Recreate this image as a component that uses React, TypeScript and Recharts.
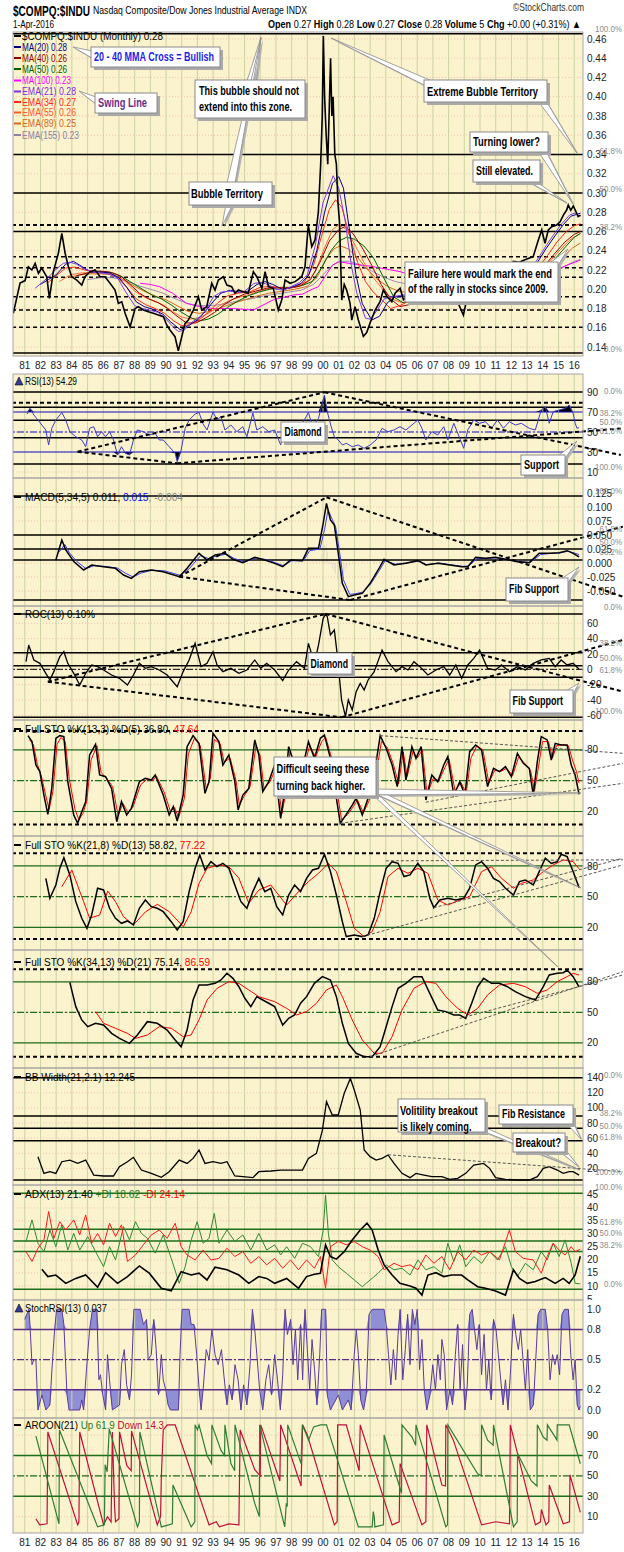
import React from 'react';
import { ComposedChart, Line, Area, Bar, Cell, XAxis, YAxis, CartesianGrid, ReferenceLine } from 'recharts';

type P = [number, number];

const FONT = "'Liberation Sans', Arial, sans-serif";
const NARROW = "'Liberation Sans Narrow', 'Arial Narrow', 'Liberation Sans', Arial, sans-serif";
const X_DOMAIN: [number, number] = [1980.25, 2016.56];
const YEARS: number[] = [];
for (let y = 1981; y <= 2016; y++) YEARS.push(y);

// ---------------- main panel: $COMPQ:$INDU monthly ratio ----------------
const priceRatio: P[] = [[1980.27,0.175],[1980.7,0.2065],[1981.02,0.209],[1981.23,0.2234],[1981.45,0.22],[1981.66,0.227],[1981.87,0.2166],[1982.08,0.222],[1982.4,0.213],[1982.57,0.1906],[1982.82,0.2183],[1983.14,0.2374],[1983.36,0.258],[1983.57,0.2374],[1983.78,0.2234],[1983.99,0.213],[1984.31,0.2096],[1984.63,0.2044],[1984.84,0.213],[1985.16,0.2183],[1985.48,0.22],[1985.8,0.213],[1986.11,0.213],[1986.43,0.2062],[1986.75,0.1992],[1986.96,0.1854],[1987.18,0.187],[1987.39,0.175],[1987.71,0.161],[1988.03,0.18],[1988.24,0.1819],[1988.55,0.1784],[1988.87,0.1767],[1989.19,0.175],[1989.51,0.1732],[1989.83,0.1715],[1990.04,0.1629],[1990.25,0.1577],[1990.57,0.1507],[1990.78,0.136],[1991.0,0.1507],[1991.21,0.1646],[1991.42,0.168],[1991.74,0.1784],[1992.06,0.1923],[1992.27,0.1784],[1992.59,0.1819],[1992.91,0.2062],[1993.12,0.1992],[1993.33,0.2096],[1993.65,0.213],[1993.87,0.2044],[1994.18,0.2026],[1994.39,0.1958],[1994.61,0.1992],[1994.92,0.1975],[1995.24,0.1958],[1995.56,0.2183],[1995.78,0.213],[1996.1,0.201],[1996.31,0.2183],[1996.52,0.2026],[1996.83,0.201],[1997.15,0.1784],[1997.37,0.1888],[1997.58,0.2096],[1997.9,0.2062],[1998.22,0.2079],[1998.64,0.213],[1998.85,0.2234],[1999.06,0.2668],[1999.28,0.2442],[1999.49,0.2512],[1999.7,0.28],[1999.85,0.33],[1999.95,0.38],[2000.02,0.463],[2000.1,0.4],[2000.2,0.36],[2000.3,0.33],[2000.4,0.39],[2000.48,0.44],[2000.56,0.38],[2000.64,0.4],[2000.75,0.34],[2000.85,0.33],[2000.95,0.29],[2001.05,0.27],[2001.12,0.23],[2001.19,0.1888],[2001.35,0.205],[2001.51,0.199],[2001.72,0.1855],[2001.83,0.168],[2002.04,0.182],[2002.25,0.168],[2002.57,0.151],[2002.78,0.155],[2002.99,0.1646],[2003.31,0.178],[2003.63,0.187],[2003.84,0.1992],[2004.1,0.192],[2004.38,0.187],[2004.59,0.196],[2004.91,0.201],[2005.12,0.189],[2005.33,0.192],[2005.7,0.197],[2006.1,0.195],[2006.4,0.201],[2006.7,0.192],[2007.1,0.197],[2007.5,0.2],[2007.9,0.193],[2008.2,0.187],[2008.52,0.189],[2008.94,0.173],[2009.15,0.189],[2009.5,0.196],[2009.9,0.205],[2010.3,0.2],[2010.7,0.208],[2011.1,0.212],[2011.5,0.205],[2011.9,0.214],[2012.12,0.229],[2012.5,0.228],[2012.9,0.231],[2013.39,0.234],[2013.71,0.251],[2013.93,0.2616],[2014.14,0.2478],[2014.35,0.2616],[2014.57,0.265],[2014.89,0.2668],[2015.1,0.27],[2015.31,0.277],[2015.52,0.2823],[2015.62,0.2875],[2015.78,0.282],[2015.94,0.2865],[2016.11,0.2806],[2016.25,0.2754],[2016.4,0.277]];
const ema21: P[] = [[1981.66,0.201],[1982.1,0.207],[1982.6,0.214],[1983.0,0.221],[1983.46,0.227],[1983.9,0.228],[1984.3,0.226],[1984.8,0.221],[1985.3,0.218],[1985.8,0.217],[1986.3,0.216],[1986.9,0.212],[1987.4,0.198],[1988.0,0.183],[1988.5,0.18],[1989.0,0.178],[1989.5,0.176],[1990.0,0.169],[1990.5,0.16],[1990.8,0.156],[1991.2,0.158],[1991.5,0.164],[1992.2,0.172],[1992.6,0.18],[1993.0,0.192],[1993.5,0.197],[1994.0,0.198],[1994.6,0.197],[1995.0,0.198],[1995.6,0.206],[1996.0,0.207],[1996.5,0.205],[1997.0,0.2],[1997.5,0.199],[1998.0,0.203],[1998.5,0.207],[1999.0,0.215],[1999.5,0.245],[2000.0,0.29],[2000.65,0.318],[2001.0,0.305],[2001.4,0.272],[2001.8,0.225],[2002.15,0.196],[2002.7,0.17],[2003.0,0.169],[2003.4,0.177],[2003.9,0.19],[2004.3,0.192],[2005.1,0.194],[2005.6,0.196],[2006.3,0.199],[2007.0,0.198],[2007.7,0.197],[2008.3,0.193],[2008.9,0.185],[2009.4,0.188],[2010.0,0.198],[2010.6,0.203],[2011.3,0.207],[2012.0,0.21],[2012.6,0.212],[2013.2,0.22],[2013.7,0.232],[2014.2,0.245],[2014.7,0.257],[2015.2,0.268],[2015.7,0.277],[2016.0,0.279],[2016.4,0.276]];
const ma20: P[] = [[1982.0,0.205],[1982.5,0.21],[1983.0,0.215],[1983.6,0.226],[1984.1,0.229],[1984.6,0.224],[1985.2,0.218],[1985.8,0.218],[1986.4,0.217],[1987.0,0.212],[1987.5,0.202],[1988.1,0.187],[1988.6,0.182],[1989.2,0.179],[1989.8,0.174],[1990.3,0.166],[1990.9,0.158],[1991.4,0.162],[1992.0,0.168],[1992.5,0.177],[1993.0,0.187],[1993.5,0.196],[1994.1,0.199],[1994.7,0.197],[1995.2,0.198],[1995.8,0.205],[1996.3,0.208],[1996.8,0.205],[1997.4,0.2],[1998.0,0.202],[1998.6,0.206],[1999.1,0.215],[1999.6,0.24],[2000.1,0.28],[2000.6,0.31],[2001.0,0.317],[2001.3,0.305],[2001.7,0.26],[2002.1,0.215],[2002.5,0.185],[2003.1,0.168],[2003.6,0.172],[2004.1,0.186],[2004.6,0.192],[2005.2,0.193],[2006.0,0.198],[2006.8,0.199],[2007.6,0.197],[2008.3,0.195],[2009.0,0.186],[2009.6,0.19],[2010.2,0.199],[2011.0,0.206],[2011.8,0.209],[2012.5,0.211],[2013.1,0.217],[2013.7,0.229],[2014.2,0.242],[2014.8,0.256],[2015.3,0.267],[2015.8,0.276],[2016.4,0.279]];
const ema34: P[] = [[1982.4,0.206],[1983.0,0.214],[1983.6,0.222],[1984.2,0.223],[1984.8,0.22],[1985.5,0.218],[1986.2,0.217],[1986.9,0.212],[1987.5,0.202],[1988.1,0.19],[1988.7,0.184],[1989.3,0.18],[1989.9,0.175],[1990.5,0.167],[1991.0,0.162],[1991.5,0.163],[1992.1,0.168],[1992.7,0.176],[1993.3,0.186],[1993.9,0.193],[1994.6,0.196],[1995.3,0.197],[1996.0,0.202],[1996.7,0.203],[1997.4,0.201],[1998.1,0.202],[1998.8,0.207],[1999.4,0.225],[1999.9,0.255],[2000.4,0.283],[2000.8,0.293],[2001.2,0.285],[2001.7,0.255],[2002.2,0.228],[2002.7,0.208],[2003.2,0.197],[2003.8,0.188],[2004.3,0.18],[2004.9,0.183],[2005.5,0.188],[2006.2,0.193],[2007.0,0.195],[2007.8,0.196],[2008.6,0.192],[2009.3,0.19],[2010.0,0.196],[2010.8,0.201],[2011.6,0.205],[2012.4,0.208],[2013.1,0.213],[2013.7,0.222],[2014.3,0.235],[2014.9,0.249],[2015.5,0.26],[2016.0,0.266],[2016.4,0.268]];
const ma40: P[] = [[1984.3,0.214],[1985.0,0.217],[1985.7,0.219],[1986.4,0.218],[1987.1,0.214],[1987.7,0.205],[1988.3,0.196],[1988.9,0.19],[1989.5,0.186],[1990.1,0.18],[1990.7,0.172],[1991.3,0.165],[1991.9,0.165],[1992.5,0.17],[1993.1,0.176],[1993.7,0.184],[1994.3,0.19],[1995.0,0.195],[1995.7,0.198],[1996.4,0.201],[1997.1,0.202],[1997.8,0.201],[1998.5,0.203],[1999.2,0.21],[1999.8,0.228],[2000.4,0.25],[2001.0,0.262],[2001.4,0.265],[2001.9,0.258],[2002.5,0.243],[2003.1,0.225],[2003.7,0.205],[2004.3,0.19],[2004.9,0.182],[2005.5,0.184],[2006.2,0.188],[2007.0,0.193],[2007.8,0.195],[2008.6,0.194],[2009.4,0.19],[2010.2,0.192],[2011.0,0.197],[2011.8,0.203],[2012.6,0.207],[2013.3,0.212],[2014.0,0.222],[2014.7,0.236],[2015.4,0.249],[2016.0,0.257],[2016.4,0.26]];
const ma50: P[] = [[1985.2,0.218],[1985.9,0.218],[1986.6,0.217],[1987.3,0.212],[1987.9,0.206],[1988.5,0.2],[1989.1,0.194],[1989.7,0.19],[1990.3,0.184],[1990.9,0.177],[1991.5,0.171],[1992.1,0.167],[1992.7,0.169],[1993.3,0.174],[1993.9,0.181],[1994.5,0.187],[1995.2,0.193],[1995.9,0.197],[1996.6,0.2],[1997.3,0.202],[1998.0,0.202],[1998.7,0.204],[1999.3,0.208],[1999.9,0.222],[2000.5,0.24],[2001.0,0.25],[2001.5,0.254],[2002.0,0.252],[2002.6,0.245],[2003.2,0.233],[2003.8,0.214],[2004.5,0.192],[2005.1,0.186],[2005.7,0.188],[2006.4,0.19],[2007.1,0.193],[2007.9,0.195],[2008.7,0.194],[2009.5,0.191],[2010.3,0.192],[2011.1,0.196],[2011.9,0.201],[2012.7,0.205],[2013.4,0.21],[2014.1,0.219],[2014.8,0.232],[2015.5,0.245],[2016.0,0.254],[2016.4,0.258]];
const ema55: P[] = [[1983.2,0.208],[1983.9,0.215],[1984.6,0.217],[1985.3,0.217],[1986.0,0.217],[1986.7,0.215],[1987.4,0.208],[1988.0,0.198],[1988.6,0.192],[1989.2,0.188],[1989.8,0.184],[1990.4,0.177],[1991.0,0.171],[1991.6,0.169],[1992.2,0.171],[1992.8,0.176],[1993.4,0.183],[1994.0,0.188],[1994.7,0.192],[1995.4,0.195],[1996.1,0.199],[1996.8,0.201],[1997.5,0.201],[1998.2,0.202],[1998.9,0.206],[1999.5,0.218],[2000.1,0.243],[2000.6,0.262],[2001.0,0.267],[2001.5,0.262],[2002.0,0.247],[2002.6,0.228],[2003.2,0.212],[2003.8,0.2],[2004.4,0.19],[2005.0,0.186],[2005.7,0.188],[2006.5,0.191],[2007.3,0.193],[2008.1,0.194],[2008.9,0.191],[2009.7,0.191],[2010.5,0.195],[2011.3,0.199],[2012.1,0.203],[2012.9,0.207],[2013.6,0.214],[2014.3,0.226],[2015.0,0.239],[2015.7,0.251],[2016.4,0.258]];
const ema89: P[] = [[1983.8,0.212],[1984.5,0.215],[1985.2,0.216],[1985.9,0.216],[1986.6,0.215],[1987.3,0.21],[1988.0,0.203],[1988.6,0.198],[1989.3,0.193],[1990.0,0.189],[1990.7,0.183],[1991.4,0.177],[1992.1,0.175],[1992.8,0.177],[1993.5,0.181],[1994.2,0.185],[1995.0,0.189],[1995.8,0.193],[1996.6,0.196],[1997.4,0.198],[1998.2,0.2],[1999.0,0.203],[1999.6,0.212],[2000.2,0.232],[2000.7,0.242],[2001.1,0.245],[2001.6,0.242],[2002.2,0.233],[2002.8,0.221],[2003.4,0.211],[2004.1,0.203],[2004.8,0.198],[2005.6,0.196],[2006.5,0.196],[2007.4,0.197],[2008.3,0.197],[2009.2,0.195],[2010.1,0.196],[2011.0,0.198],[2011.9,0.201],[2012.8,0.204],[2013.6,0.209],[2014.4,0.218],[2015.2,0.232],[2015.9,0.243],[2016.4,0.248]];
const ema155: P[] = [[1985.0,0.21],[1985.8,0.212],[1986.6,0.212],[1987.4,0.209],[1988.2,0.204],[1989.0,0.2],[1989.8,0.196],[1990.6,0.19],[1991.4,0.185],[1992.2,0.183],[1993.0,0.183],[1993.8,0.185],[1994.6,0.188],[1995.4,0.19],[1996.2,0.193],[1997.0,0.195],[1997.8,0.197],[1998.6,0.199],[1999.4,0.205],[2000.0,0.215],[2000.6,0.225],[2001.1,0.229],[2001.7,0.229],[2002.4,0.225],[2003.1,0.219],[2003.8,0.213],[2004.6,0.208],[2005.5,0.205],[2006.5,0.204],[2007.5,0.203],[2008.5,0.203],[2009.5,0.201],[2010.5,0.201],[2011.5,0.202],[2012.5,0.204],[2013.4,0.207],[2014.3,0.213],[2015.2,0.222],[2016.0,0.229],[2016.4,0.231]];
const ma100: P[] = [[1988.35,0.2062],[1989.0,0.205],[1989.6,0.2026],[1990.4,0.196],[1991.3,0.1854],[1992.1,0.182],[1993.0,0.18],[1994.3,0.18],[1995.56,0.1784],[1996.83,0.189],[1998.1,0.194],[1998.7,0.195],[1999.3,0.2],[1999.7,0.2026],[2000.2,0.215],[2000.6,0.225],[2001.0,0.2286],[2002.0,0.226],[2003.0,0.224],[2004.0,0.221],[2004.9,0.2183],[2006.0,0.213],[2007.0,0.209],[2008.0,0.207],[2009.0,0.204],[2010.0,0.201],[2011.0,0.2],[2012.0,0.202],[2013.0,0.205],[2014.0,0.21],[2015.3,0.2234],[2016.4,0.2304]];

// ---------------- RSI(13) ----------------
const rsi13: P[] = [[1981.15,68],[1981.33,73.7],[1981.58,67],[1981.84,62],[1982.09,57],[1982.34,52],[1982.52,37],[1982.72,53.7],[1982.98,62],[1983.36,69.5],[1983.61,62],[1983.87,50.3],[1984.25,45.3],[1984.63,42],[1984.88,35.3],[1985.13,53.7],[1985.39,55.3],[1985.64,45.3],[1985.89,50.3],[1986.15,45.3],[1986.4,50.3],[1986.65,42],[1986.91,27],[1987.16,35.3],[1987.41,28.7],[1987.67,27],[1987.92,42],[1988.17,52],[1988.55,50.3],[1988.93,47],[1989.31,48.7],[1989.57,42],[1989.82,42],[1990.2,35.3],[1990.58,28.7],[1990.71,20.3],[1990.96,32],[1991.22,53.7],[1991.47,62],[1991.85,68],[1992.1,69.5],[1992.36,58],[1992.61,52],[1992.99,70],[1993.25,62],[1993.5,65.3],[1993.75,52],[1994.13,57],[1994.51,50.3],[1994.89,55.3],[1995.15,45.3],[1995.53,69],[1995.78,52],[1996.16,55.3],[1996.54,50.3],[1996.92,52],[1997.3,37],[1997.55,52],[1997.93,53.7],[1998.31,57],[1998.69,58.7],[1999.07,69.5],[1999.33,55.3],[1999.71,63.7],[2000.09,87],[2000.27,70.3],[2000.52,55.3],[2000.72,45.3],[2000.97,42],[2001.23,37],[2001.48,38.7],[2001.86,35.3],[2002.24,37],[2002.62,33.7],[2003.0,37],[2003.38,42],[2003.76,53.7],[2004.14,50.3],[2004.52,52],[2004.9,55.3],[2005.28,52],[2005.66,57],[2006.04,62],[2006.3,53.7],[2006.55,42],[2006.93,50.3],[2007.31,47],[2007.69,55.3],[2007.95,42],[2008.33,58.7],[2008.71,43.7],[2008.96,33.7],[2009.22,52],[2009.6,62],[2009.97,58.7],[2010.35,60.3],[2010.73,53.7],[2011.11,62],[2011.49,53.7],[2011.87,60.3],[2012.25,57],[2012.63,58.7],[2013.14,53.7],[2013.52,52],[2013.9,72],[2014.16,75.3],[2014.41,58.7],[2014.66,70.3],[2015.04,72],[2015.42,73.7],[2015.68,77],[2015.93,68.7],[2016.06,58.7],[2016.18,53.7],[2016.31,54.3]];

// ---------------- MACD(5,34,5) ----------------
const macdLine: P[] = [[1982.98,0.0054],[1983.36,0.0411],[1983.61,0.0232],[1984.12,0.0027],[1984.75,-0.0125],[1985.26,-0.0036],[1986.02,-0.0066],[1986.78,-0.0095],[1987.29,-0.0214],[1987.79,-0.0274],[1988.3,-0.0155],[1989.06,-0.0125],[1989.82,-0.0155],[1990.84,-0.0244],[1991.34,-0.0095],[1992.1,0.0173],[1992.61,0.0054],[1993.12,0.0143],[1993.75,0.0173],[1994.26,0.0066],[1994.89,0.0006],[1995.65,0.0101],[1996.29,0.0054],[1996.92,-0.0006],[1997.43,-0.0066],[1997.93,0.0054],[1998.69,0.0042],[1999.07,0.0262],[1999.71,0.0262],[2000.01,0.0708],[2000.22,0.1065],[2000.47,0.0768],[2000.72,0.0679],[2000.97,0.0173],[2001.23,-0.0363],[2001.61,-0.0601],[2001.99,-0.0571],[2002.5,-0.0542],[2003.0,-0.0363],[2003.51,-0.0125],[2003.89,0.0066],[2004.52,-0.0036],[2005.28,-0.0006],[2006.04,0.0042],[2006.55,-0.0036],[2007.31,-0.0006],[2008.07,-0.0036],[2008.83,-0.0066],[2009.22,-0.0066],[2009.72,0.0101],[2010.35,0.0083],[2010.99,0.0101],[2011.62,0.0066],[2012.38,0.0024],[2013.14,0.0006],[2013.77,0.0173],[2014.41,0.0173],[2015.04,0.0185],[2015.55,0.022],[2015.93,0.0173],[2016.31,0.011]];
const macdSignal: P[] = [[1983.2,0.02],[1983.55,0.033],[1983.85,0.018],[1984.3,0.003],[1984.9,-0.01],[1985.4,-0.005],[1986.1,-0.006],[1986.9,-0.009],[1987.4,-0.018],[1987.9,-0.025],[1988.4,-0.018],[1989.1,-0.013],[1989.9,-0.014],[1990.9,-0.022],[1991.45,-0.011],[1992.2,0.013],[1992.7,0.008],[1993.2,0.012],[1993.85,0.016],[1994.35,0.008],[1995.0,0.002],[1995.75,0.009],[1996.4,0.006],[1997.0,0.0],[1997.5,-0.005],[1998.0,0.004],[1998.75,0.004],[1999.15,0.022],[1999.8,0.025],[2000.1,0.06],[2000.32,0.095],[2000.55,0.08],[2000.8,0.065],[2001.05,0.02],[2001.3,-0.03],[2001.7,-0.056],[2002.05,-0.055],[2002.55,-0.052],[2003.05,-0.037],[2003.55,-0.015],[2003.95,0.004],[2004.6,-0.002],[2005.3,0.0],[2006.1,0.004],[2006.6,-0.003],[2007.4,0.0],[2008.1,-0.003],[2008.9,-0.006],[2009.3,-0.005],[2009.8,0.008],[2010.4,0.008],[2011.0,0.009],[2011.7,0.006],[2012.4,0.003],[2013.2,0.001],[2013.85,0.015],[2014.45,0.017],[2015.1,0.018],[2015.6,0.021],[2016.0,0.018],[2016.31,0.015]];
const macdHist: P[] = [[1983.0,0.003],[1983.3,0.006],[1983.6,-0.004],[1984.0,-0.003],[1984.5,-0.004],[1985.0,-0.003],[1985.5,0.002],[1986.0,-0.002],[1986.5,-0.002],[1987.0,-0.003],[1987.5,-0.004],[1988.0,-0.002],[1988.5,0.003],[1989.0,0.001],[1989.5,-0.002],[1990.0,-0.003],[1990.5,-0.004],[1991.0,-0.003],[1991.5,0.004],[1992.0,0.005],[1992.5,-0.003],[1993.0,0.003],[1993.5,0.002],[1994.0,-0.002],[1994.5,-0.002],[1995.0,-0.002],[1995.5,0.003],[1996.0,0.002],[1996.5,-0.002],[1997.0,-0.002],[1997.5,-0.003],[1998.0,0.002],[1998.5,0.001],[1999.0,0.008],[1999.3,0.004],[1999.6,0.003],[1999.9,0.015],[2000.0,0.025],[2000.1,0.032],[2000.2,0.035],[2000.3,0.02],[2000.4,0.008],[2000.5,-0.004],[2000.6,-0.01],[2000.7,-0.015],[2000.8,-0.02],[2000.9,-0.03],[2001.0,-0.035],[2001.1,-0.042],[2001.2,-0.038],[2001.3,-0.025],[2001.4,-0.015],[2001.5,-0.008],[2001.7,-0.004],[2002.0,0.002],[2002.5,0.003],[2003.0,0.002],[2003.3,0.004],[2003.6,0.006],[2003.9,0.004],[2004.3,-0.002],[2004.8,0.001],[2005.3,0.002],[2005.8,0.002],[2006.3,-0.002],[2006.8,-0.002],[2007.3,0.001],[2007.8,-0.002],[2008.3,-0.002],[2008.8,-0.003],[2009.3,0.002],[2009.8,0.003],[2010.3,0.001],[2010.8,0.001],[2011.3,-0.002],[2011.8,-0.002],[2012.3,-0.001],[2012.8,0.001],[2013.3,0.002],[2013.8,0.003],[2014.3,0.001],[2014.8,0.001],[2015.3,0.001],[2015.8,-0.002],[2016.1,-0.003],[2016.3,-0.004]];

// ---------------- ROC(13) ----------------
const roc13: P[] = [[1981.08,10],[1981.25,31.7],[1981.58,12.2],[1981.96,7.8],[1982.34,-5.2],[1982.6,-13.9],[1982.85,-3],[1983.23,16.5],[1983.49,23],[1983.74,7.8],[1984.12,-5.2],[1984.5,-20.4],[1984.88,-5.2],[1985.26,5.7],[1985.64,3.5],[1986.02,-0.9],[1986.53,-7.4],[1987.03,-11.7],[1987.54,-20.4],[1987.92,-7.4],[1988.3,7.8],[1988.68,1.3],[1989.06,3.5],[1989.57,-0.9],[1990.07,-7.4],[1990.71,-22.6],[1991.09,-3],[1991.47,12.2],[1991.85,33.9],[1992.23,3.5],[1992.61,7.8],[1992.99,23],[1993.25,5.7],[1993.62,-3],[1994.13,1.3],[1994.64,-5.2],[1995.15,-0.9],[1995.65,12.2],[1996.03,1.3],[1996.41,7.8],[1996.92,-0.9],[1997.43,-14.8],[1997.81,-0.9],[1998.31,10],[1998.82,1.3],[1999.07,33.9],[1999.45,7.8],[1999.71,31.7],[2000.01,66.5],[2000.16,72],[2000.27,68.7],[2000.47,44.8],[2000.72,51.3],[2000.92,16.5],[2001.18,-40],[2001.43,-61.7],[2001.61,-40],[2001.86,-53],[2002.11,-29.1],[2002.37,-18.3],[2002.62,-27],[2002.87,-13.9],[2003.26,-3],[2003.76,25.2],[2004.14,10],[2004.65,-3],[2005.03,3.5],[2005.41,-0.9],[2005.79,10],[2006.17,3.5],[2006.68,-7.4],[2007.19,-0.9],[2007.69,3.5],[2008.07,-7.4],[2008.46,5.7],[2008.83,-11.7],[2009.22,5.7],[2009.6,14.3],[2009.97,25.2],[2010.48,1.3],[2010.99,-0.9],[2011.37,5.7],[2011.87,-3],[2012.38,3.5],[2012.89,-0.9],[2013.39,7.8],[2013.9,12.2],[2014.41,14.3],[2014.79,3.5],[2015.17,12.2],[2015.55,5.7],[2015.93,7.8],[2016.31,0.1]];

// ---------------- Full STO panels ----------------
const sto1K: P[] = [[1981.2,93.8],[1981.46,88],[1981.71,65.2],[1981.96,58.8],[1982.22,36],[1982.47,17.2],[1982.72,42.5],[1982.98,91.2],[1983.23,93.8],[1983.49,92.8],[1983.74,49],[1984.12,16.6],[1984.37,8.5],[1984.63,19.8],[1984.88,29.6],[1985.13,75],[1985.51,85.4],[1985.77,55.5],[1986.15,53.9],[1986.53,42.5],[1986.86,10.1],[1987.16,29.6],[1987.49,16.6],[1987.79,23.1],[1988.3,49],[1988.68,52.3],[1989.06,50.6],[1989.31,55.5],[1989.82,36],[1990.2,16.6],[1990.46,24.7],[1990.71,10.8],[1991.09,36],[1991.34,83.1],[1991.72,93.8],[1992.1,86.3],[1992.48,37.7],[1992.74,49],[1992.99,96.1],[1993.37,88],[1993.62,65.2],[1994.0,75],[1994.38,49],[1994.59,21.5],[1994.89,36],[1995.27,42.5],[1995.65,89.6],[1995.91,75],[1996.16,39.3],[1996.54,49],[1996.92,65.2],[1997.3,13.3],[1997.55,39.3],[1997.81,83.1],[1998.19,65.2],[1998.57,53.9],[1999.07,88],[1999.45,71.7],[1999.83,91.2],[2000.09,94.4],[2000.47,71.7],[2000.85,32.8],[2001.1,8.5],[2001.48,17.2],[2001.86,26.3],[2002.11,32.8],[2002.5,16.6],[2002.87,32.8],[2003.26,55.5],[2003.64,93.8],[2004.02,81.5],[2004.4,65.2],[2004.73,44.2],[2005.03,83.1],[2005.28,50.6],[2005.66,83.1],[2005.92,71.7],[2006.25,83.1],[2006.55,31.2],[2006.93,55.5],[2007.31,49],[2007.69,65.2],[2007.95,73.4],[2008.33,36],[2008.71,49],[2009.04,36],[2009.34,78.2],[2009.72,84.7],[2010.1,79.8],[2010.48,44.2],[2010.86,62],[2011.24,58.8],[2011.62,63.6],[2012.0,53.9],[2012.38,76.6],[2012.76,66.9],[2013.14,62],[2013.39,36],[2013.65,68.5],[2013.9,92.8],[2014.28,89.6],[2014.54,70.1],[2014.79,86.3],[2015.17,84.7],[2015.55,84.7],[2015.81,65.2],[2016.06,55.5],[2016.31,36.8]];
const sto1D: P[] = [[1981.3,90],[1981.55,85],[1981.8,66],[1982.05,55],[1982.3,38],[1982.55,22],[1982.8,40],[1983.05,85],[1983.3,92],[1983.58,88],[1983.83,52],[1984.2,22],[1984.45,12],[1984.7,18],[1984.95,30],[1985.22,70],[1985.6,84],[1985.86,58],[1986.23,52],[1986.6,44],[1986.95,16],[1987.25,28],[1987.57,19],[1987.88,24],[1988.38,46],[1988.76,51],[1989.14,50],[1989.4,54],[1989.9,38],[1990.28,20],[1990.54,24],[1990.8,14],[1991.17,33],[1991.42,76],[1991.8,91],[1992.18,84],[1992.56,42],[1992.82,52],[1993.07,90],[1993.45,86],[1993.7,68],[1994.08,72],[1994.46,50],[1994.67,26],[1994.97,35],[1995.35,44],[1995.73,84],[1996.0,74],[1996.24,42],[1996.62,49],[1997.0,62],[1997.38,18],[1997.63,38],[1997.89,78],[1998.27,66],[1998.65,56],[1999.15,84],[1999.53,73],[1999.91,88],[2000.17,92],[2000.55,72],[2000.93,36],[2001.18,12],[2001.56,17],[2001.94,25],[2002.19,31],[2002.58,19],[2002.95,31],[2003.34,52],[2003.72,88],[2004.1,82],[2004.48,66],[2004.81,47],[2005.11,78],[2005.36,54],[2005.74,79],[2006.0,72],[2006.33,80],[2006.63,36],[2007.01,52],[2007.39,50],[2007.77,63],[2008.03,71],[2008.41,40],[2008.79,48],[2009.12,38],[2009.42,72],[2009.8,84],[2010.18,80],[2010.56,48],[2010.94,60],[2011.32,59],[2011.7,62],[2012.08,55],[2012.46,73],[2012.84,67],[2013.22,60],[2013.47,40],[2013.73,64],[2013.98,88],[2014.36,88],[2014.62,72],[2014.87,84],[2015.25,85],[2015.63,84],[2015.89,70],[2016.14,59],[2016.31,47.6]];
const sto2K: P[] = [[1982.34,67.9],[1982.6,48.4],[1982.98,61.4],[1983.23,77.7],[1983.49,88.1],[1983.87,71.2],[1984.25,45.1],[1984.63,28.8],[1984.96,19],[1985.26,32.1],[1985.64,58.2],[1986.02,56.5],[1986.4,38.6],[1986.78,28.8],[1987.16,23.9],[1987.54,26.2],[1987.92,22.3],[1988.3,38.6],[1988.68,46.7],[1989.06,40.2],[1989.44,38.6],[1989.82,35.3],[1990.33,25.5],[1990.71,17.4],[1991.09,25.5],[1991.47,54.9],[1991.85,77.7],[1992.15,90.8],[1992.48,76.1],[1992.86,84.2],[1993.24,79.3],[1993.62,82.6],[1994.0,77.7],[1994.38,61.4],[1994.77,45.1],[1995.15,38.6],[1995.53,54.9],[1995.91,67.9],[1996.29,54.9],[1996.67,58.2],[1997.05,40.2],[1997.43,32.1],[1997.81,51.6],[1998.19,61.4],[1998.57,54.9],[1998.95,67.9],[1999.33,76.1],[1999.71,77.7],[2000.09,91.4],[2000.47,74.5],[2000.85,51.6],[2001.23,25.5],[2001.48,10.9],[2001.99,12.5],[2002.5,10.9],[2002.87,12.5],[2003.26,28.8],[2003.64,54.9],[2004.02,77.7],[2004.4,84.2],[2004.78,82.6],[2005.16,69.6],[2005.54,71.2],[2006.04,82.6],[2006.42,74.5],[2006.8,48.4],[2007.06,39.2],[2007.44,46.7],[2007.95,48.4],[2008.46,46.7],[2008.96,48.4],[2009.34,58.2],[2009.72,81],[2010.1,84.2],[2010.48,77.7],[2010.86,67.9],[2011.24,64.7],[2011.62,58.2],[2012.13,51.6],[2012.51,64.7],[2012.89,66.3],[2013.39,61.4],[2013.77,74.5],[2014.16,87.5],[2014.54,82.6],[2014.92,84.2],[2015.17,91.4],[2015.55,89.1],[2015.93,74.5],[2016.31,58.8]];
const sto2D: P[] = [[1983.36,59.8],[1984.0,76],[1984.75,45],[1985.13,29],[1985.77,32],[1986.28,55.5],[1986.78,45],[1987.29,30.4],[1987.92,22.3],[1988.68,35],[1989.44,42.5],[1990.2,35.3],[1991.1,20.6],[1991.6,35.3],[1992.1,63],[1992.61,77.7],[1993.37,81],[1994.0,79.3],[1994.64,68],[1995.27,43.5],[1995.91,56.5],[1996.67,61.4],[1997.68,41.8],[1998.44,54.9],[1999.07,64.7],[1999.71,72.8],[2000.34,82.6],[2000.85,74.5],[2001.48,45.1],[2001.99,19],[2002.62,10.9],[2003.13,15.8],[2003.64,35.3],[2004.14,69.6],[2004.78,77.7],[2005.41,72.8],[2006.04,77.7],[2006.68,72.8],[2007.31,46.7],[2007.95,41.8],[2008.71,46.7],[2009.34,50],[2010.1,74.5],[2010.73,79.3],[2011.37,67.9],[2012.13,58.2],[2012.64,63],[2013.39,66.3],[2014.03,74.5],[2014.66,81],[2015.3,85.9],[2015.93,84.2],[2016.31,77.2]];
const sto3K: P[] = [[1983.87,79.5],[1984.25,55.6],[1984.63,42.5],[1985.01,35.9],[1985.51,39.2],[1986.02,37.5],[1986.53,29.3],[1987.03,24.4],[1987.67,19.5],[1988.17,27.7],[1988.81,40.8],[1989.44,39.2],[1990.07,32.6],[1990.58,22.8],[1990.96,16.2],[1991.34,32.6],[1991.72,62.1],[1992.1,76.9],[1992.61,76.9],[1993.12,78.5],[1993.5,81.8],[1993.88,88.4],[1994.26,83.4],[1994.64,75.2],[1995.02,63.8],[1995.4,55.6],[1995.78,65.4],[1996.16,62.1],[1996.54,58.9],[1996.92,55.6],[1997.43,37.5],[1997.81,44.1],[1998.19,47.4],[1998.57,58.9],[1998.95,65.4],[1999.45,78.5],[1999.96,85.1],[2000.47,81.8],[2000.85,65.4],[2001.23,39.2],[2001.61,19.5],[2002.11,9.7],[2002.62,6.4],[2003.13,6.4],[2003.64,16.2],[2004.02,35.9],[2004.4,55.6],[2004.78,73.6],[2005.28,78.5],[2005.79,85.1],[2006.3,85.1],[2006.8,68.7],[2007.31,52.3],[2007.82,50.7],[2008.33,47.4],[2008.71,47.4],[2009.09,44.1],[2009.47,58.9],[2009.85,75.2],[2010.23,83.4],[2010.73,78.5],[2011.24,78.5],[2011.75,75.2],[2012.25,70.3],[2012.89,65.4],[2013.52,62.1],[2014.03,75.2],[2014.41,86.7],[2014.92,88.4],[2015.3,89],[2015.55,91.6],[2015.93,85.1],[2016.31,75.1]];
const sto3D: P[] = [[1985.51,50.7],[1986.02,39.2],[1986.78,34.3],[1987.54,29.3],[1988.05,24.4],[1988.81,27.7],[1989.57,35.9],[1990.33,34.3],[1991.09,26.1],[1991.59,27.7],[1992.1,42.5],[1992.61,62.1],[1993.25,73.6],[1994.0,80.2],[1994.64,78.5],[1995.27,72],[1995.91,65.4],[1996.92,60.5],[1997.68,53.9],[1998.31,47.4],[1998.95,50.7],[1999.58,58.9],[2000.22,72],[2000.85,76.9],[2001.23,65.4],[2001.86,42.5],[2002.5,22.8],[2003.26,9.7],[2003.77,9.7],[2004.4,26.1],[2005.03,52.3],[2005.79,73.6],[2006.55,80.2],[2007.19,78.5],[2007.82,65.4],[2008.58,53.9],[2009.22,47.4],[2009.85,53.9],[2010.48,67.1],[2011.24,76.9],[2012.13,78.5],[2012.89,75.2],[2013.65,68.7],[2014.28,72],[2014.92,80.2],[2015.55,85.1],[2015.93,88.4],[2016.31,86.6]];

// ---------------- BB Width(21,2.1) ----------------
const bbWidth: P[] = [[1981.84,35.5],[1982.22,13.4],[1982.6,15.6],[1982.98,13.4],[1983.36,28.8],[1983.87,31],[1984.37,26.6],[1984.88,31],[1985.39,11.2],[1986.02,9.9],[1986.65,9.9],[1987.03,22.2],[1987.54,28.8],[1987.92,34.6],[1988.43,17.8],[1989.06,13.4],[1989.7,8.1],[1990.2,15.6],[1990.84,31],[1991.34,26.6],[1991.72,33.2],[1992.1,44.3],[1992.48,26.6],[1992.99,28.8],[1993.5,26.6],[1993.88,28.8],[1994.38,9.9],[1994.89,9],[1995.53,7.7],[1995.91,15.6],[1996.67,16.5],[1997.3,17.8],[1997.93,17.8],[1998.69,17.8],[1999.07,33.2],[1999.58,39.9],[1999.96,70.7],[2000.22,108.2],[2000.59,90.6],[2000.97,90.6],[2001.35,119.3],[2001.74,139],[2001.99,123.7],[2002.37,97.2],[2002.62,44.3],[2003.0,35.5],[2003.38,31],[2003.76,33.2],[2004.14,37.7],[2004.52,26.6],[2005.03,13.4],[2005.54,7.7],[2005.92,13.4],[2006.43,11.2],[2006.93,9],[2007.57,9],[2008.07,5.5],[2008.58,6.8],[2009.09,13.4],[2009.6,24.4],[2010.23,26.6],[2010.61,20],[2010.99,7.7],[2011.62,5.5],[2012.38,4.6],[2013.14,4.6],[2013.65,9],[2014.03,20],[2014.41,22.2],[2014.92,17.8],[2015.3,13.4],[2015.68,15.6],[2015.93,15.6],[2016.31,11]];

// ---------------- ADX(13) ----------------
const adxLine: P[] = [[1982.09,16.4],[1982.47,13.6],[1982.98,14.2],[1983.61,11],[1984.25,12.9],[1984.88,14.2],[1985.64,9.5],[1986.15,15.1],[1986.91,11],[1987.54,13.6],[1988.3,17.7],[1988.93,14.9],[1989.7,9.1],[1990.33,8.1],[1990.96,15.5],[1991.6,14.2],[1992.1,14.9],[1992.61,12.3],[1993.12,17.2],[1993.88,16.2],[1994.64,14.2],[1995.27,11],[1995.91,13.6],[1996.41,12.9],[1996.92,11],[1997.68,12.9],[1998.44,9.1],[1998.95,13.6],[1999.45,14.5],[1999.83,14.9],[2000.16,25.8],[2000.47,21.3],[2000.85,20.3],[2001.35,23.2],[2001.86,27.7],[2002.37,31.5],[2002.8,34.1],[2003.13,31.5],[2003.51,23.8],[2003.89,18.1],[2004.4,14.2],[2004.9,11],[2005.54,10],[2005.92,9.1],[2006.3,6.5],[2006.68,14.2],[2007.19,15.1],[2007.69,13.6],[2008.2,14.2],[2008.83,14.2],[2009.22,12.3],[2009.85,9.7],[2010.35,9.1],[2010.99,8.1],[2011.62,6.5],[2012.13,16.2],[2012.51,12.9],[2013.01,11],[2013.52,11.7],[2014.16,13.2],[2014.79,11],[2015.3,12.9],[2015.68,11],[2016.06,14.2],[2016.39,21.4]];
const plusDI: P[] = [[1981.08,27.1],[1981.46,35.4],[1981.84,26.4],[1982.22,23.2],[1982.6,31.5],[1982.98,25.1],[1983.36,33.5],[1983.74,23.8],[1984.12,30.2],[1984.5,23.8],[1985.01,29],[1985.51,23.2],[1986.02,17.4],[1986.4,25.1],[1986.78,20],[1987.29,32.8],[1987.67,27.7],[1988.05,34.7],[1988.43,30.2],[1988.81,28.3],[1989.31,22.6],[1989.82,29.6],[1990.33,20.6],[1990.84,11],[1991.22,17.4],[1991.6,27.7],[1991.98,34.7],[1992.36,26.4],[1992.74,28.3],[1993.07,37.9],[1993.37,26.4],[1993.88,31.5],[1994.38,27.1],[1994.89,29.6],[1995.4,23.8],[1995.91,30.2],[1996.41,23.8],[1996.92,25.8],[1997.3,21.9],[1997.68,25.1],[1998.19,20.6],[1998.69,26.4],[1999.2,25.1],[1999.71,21.3],[2000.01,31.5],[2000.16,45],[2000.34,30.2],[2000.59,20],[2000.97,17.4],[2001.48,14.9],[2001.99,12.3],[2002.5,9.7],[2003.0,12.3],[2003.51,14.9],[2004.02,18.1],[2004.52,16.2],[2005.03,16.8],[2005.54,14.2],[2006.04,20],[2006.55,16.2],[2007.06,17.4],[2007.57,14.9],[2007.95,26.4],[2008.33,19.4],[2008.71,25.8],[2009.09,17.4],[2009.6,21.3],[2010.1,18.7],[2010.61,23.2],[2011.11,20],[2011.62,25.1],[2012.0,17.4],[2012.38,13.6],[2012.89,18.7],[2013.39,16.2],[2013.9,23.2],[2014.28,20],[2014.66,26.4],[2015.04,21.3],[2015.42,27.7],[2015.81,18.7],[2016.06,11],[2016.39,10.8]];
const minusDI: P[] = [[1981.08,23.2],[1981.46,19.4],[1981.84,24.5],[1982.22,27.7],[1982.52,38.6],[1982.85,28.3],[1983.23,34.7],[1983.61,31.5],[1984.12,35.4],[1984.5,29.6],[1984.88,37.3],[1985.26,26.4],[1985.64,30.2],[1986.02,25.8],[1986.4,34.1],[1986.78,29],[1987.16,33.5],[1987.54,19.4],[1988.05,21.9],[1988.55,25.8],[1989.06,29.6],[1989.57,31.5],[1990.07,28.3],[1990.58,34.1],[1990.96,25.1],[1991.34,21.9],[1991.85,20],[1992.36,23.8],[1992.86,20],[1993.37,20.6],[1993.88,24.5],[1994.38,21.3],[1994.89,23.2],[1995.4,18.7],[1995.91,21.3],[1996.41,18.1],[1996.92,20.6],[1997.43,16.8],[1997.93,20],[1998.44,16.2],[1998.95,20],[1999.45,16.8],[1999.83,21.3],[2000.16,9.1],[2000.47,25.1],[2000.97,27.1],[2001.48,25.8],[2001.99,27.1],[2002.5,25.1],[2003.0,23.8],[2003.51,21.3],[2003.89,16.2],[2004.52,18.7],[2005.03,17.4],[2005.54,18.1],[2006.04,16.2],[2006.55,21.9],[2007.06,18.7],[2007.57,21.3],[2008.07,16.2],[2008.58,23.2],[2009.09,20],[2009.6,23.8],[2010.1,21.9],[2010.61,23.2],[2011.24,20],[2011.87,31.5],[2012.25,23.2],[2012.76,20.6],[2013.39,20],[2013.9,14.9],[2014.28,21.3],[2014.66,26.4],[2015.04,23.8],[2015.42,21.9],[2015.81,25.1],[2016.06,23.2],[2016.39,24.1]];

// ---------------- StochRSI(13) ----------------
const stochRsi: P[] = [[1981.0,0.9],[1981.26,1.0],[1981.33,0.85],[1981.46,0.45],[1981.58,0.5],[1981.71,0.5],[1981.84,0.0],[1982.09,0.15],[1982.35,0.0],[1982.6,0.05],[1982.73,0.4],[1982.9,0.8],[1983.03,1.0],[1983.36,1.0],[1983.49,0.85],[1983.69,0.15],[1983.82,0.0],[1984.5,0.0],[1984.63,0.1],[1984.75,0.0],[1984.93,0.4],[1985.13,0.8],[1985.31,1.0],[1985.59,1.0],[1985.72,0.3],[1985.82,0.35],[1985.97,0.15],[1986.15,0.0],[1986.27,0.55],[1986.4,0.3],[1986.58,0.0],[1987.04,0.05],[1987.16,0.45],[1987.34,0.6],[1987.49,0.25],[1987.67,0.1],[1987.8,0.35],[1987.95,1.0],[1988.35,1.0],[1988.56,0.85],[1988.76,0.9],[1988.86,0.5],[1989.06,0.55],[1989.22,0.9],[1989.37,0.6],[1989.52,0.15],[1989.7,0.55],[1989.82,0.3],[1989.98,0.2],[1990.13,0.05],[1990.28,0.0],[1990.79,0.0],[1990.89,0.55],[1991.02,1.0],[1991.47,1.0],[1991.6,0.85],[1991.78,0.85],[1991.95,0.55],[1992.11,0.2],[1992.23,0.0],[1992.36,0.2],[1992.56,0.6],[1992.74,0.5],[1992.92,0.8],[1993.12,0.55],[1993.32,0.45],[1993.53,0.6],[1993.68,0.35],[1993.88,0.05],[1994.03,0.25],[1994.21,0.1],[1994.39,0.45],[1994.59,0.3],[1994.77,0.0],[1994.94,0.25],[1995.15,0.05],[1995.35,0.45],[1995.5,1.0],[1995.65,0.8],[1995.81,0.5],[1995.96,0.2],[1996.16,0.0],[1996.36,0.3],[1996.54,0.45],[1996.72,0.15],[1996.92,0.55],[1997.1,0.3],[1997.28,0.0],[1997.43,0.35],[1997.58,1.0],[1997.73,0.75],[1997.94,0.9],[1998.09,0.45],[1998.24,0.8],[1998.39,0.3],[1998.57,0.85],[1998.7,0.3],[1998.85,1.0],[1999.0,0.6],[1999.15,0.2],[1999.3,0.7],[1999.46,0.4],[1999.61,0.05],[1999.79,0.55],[1999.91,1.0],[2000.17,1.0],[2000.27,0.15],[2000.47,0.0],[2000.98,0.15],[2001.23,0.0],[2001.61,0.1],[2001.79,0.0],[2001.99,0.55],[2002.12,0.8],[2002.25,0.55],[2002.4,0.1],[2002.58,0.0],[2002.75,0.15],[2002.93,0.95],[2003.13,1.0],[2003.89,1.0],[2004.02,0.85],[2004.17,0.55],[2004.32,0.25],[2004.48,0.6],[2004.63,0.3],[2004.78,0.75],[2004.91,1.0],[2005.08,0.3],[2005.24,0.6],[2005.39,0.95],[2005.54,0.45],[2005.69,1.0],[2005.85,0.85],[2006.0,1.0],[2006.15,0.4],[2006.3,0.7],[2006.45,0.2],[2006.61,0.0],[2006.81,0.15],[2006.99,0.45],[2007.16,0.2],[2007.32,0.55],[2007.47,0.3],[2007.57,0.7],[2007.72,0.55],[2007.87,0.0],[2008.08,0.2],[2008.25,0.05],[2008.43,0.55],[2008.58,0.85],[2008.73,0.2],[2008.89,0.65],[2009.04,0.0],[2009.19,0.25],[2009.34,0.95],[2009.5,1.0],[2009.65,0.8],[2009.8,0.6],[2009.95,0.85],[2010.1,0.35],[2010.26,0.75],[2010.41,0.2],[2010.56,0.5],[2010.71,0.1],[2010.86,0.9],[2011.02,0.8],[2011.17,0.55],[2011.32,0.3],[2011.47,0.05],[2011.62,0.3],[2011.78,0.0],[2011.93,0.35],[2012.13,0.95],[2012.28,0.75],[2012.44,0.6],[2012.59,0.8],[2012.74,0.5],[2012.89,0.2],[2013.04,0.6],[2013.2,0.0],[2013.4,0.05],[2013.55,0.5],[2013.7,0.95],[2013.86,1.0],[2014.16,1.0],[2014.31,0.8],[2014.46,0.3],[2014.62,0.55],[2014.77,0.45],[2014.92,0.55],[2015.07,0.35],[2015.22,0.95],[2015.38,1.0],[2015.63,1.0],[2015.78,0.55],[2015.93,0.3],[2016.06,0.5],[2016.19,0.05],[2016.31,0.0],[2016.39,0.037]];

// ---------------- AROON(21) ----------------
const aroonUp: P[] = [[1981.71,89],[1983.18,3],[1983.21,95],[1985.64,0],[1986.07,2],[1986.12,61],[1986.25,54],[1986.38,96],[1988.18,0],[1988.3,5],[1988.33,93],[1989.7,0],[1990.4,3],[1990.44,41],[1991.6,0],[1991.83,5],[1991.85,100],[1992.0,95],[1992.1,100],[1992.61,70],[1992.9,62],[1992.92,100],[1993.5,75],[1993.73,70],[1993.75,100],[1994.13,62],[1994.37,55],[1994.39,100],[1995.65,23],[1995.94,10],[1995.96,100],[1997.56,0],[1997.66,23],[1997.72,20],[1997.75,100],[1998.6,62],[1998.68,100],[1999.08,85],[1999.4,98],[1999.84,100],[2000.22,100],[2002.25,0],[2003.13,0],[2003.2,15],[2003.26,10],[2003.3,0],[2003.85,2],[2003.89,90],[2005.0,33],[2005.03,100],[2005.67,88],[2005.9,80],[2005.92,100],[2007.82,0],[2007.93,2],[2007.95,100],[2009.85,52],[2010.08,50],[2010.1,100],[2010.48,85],[2010.84,80],[2010.86,100],[2012.13,0],[2012.37,5],[2012.39,72],[2013.27,45],[2013.63,40],[2013.65,100],[2014.03,88],[2014.27,85],[2014.29,100],[2014.79,88],[2014.9,85],[2014.92,100],[2015.68,100],[2016.39,61.9]];
const aroonDown: P[] = [[1981.71,8],[1981.95,2],[1982.42,3],[1982.47,93],[1984.37,2],[1984.45,5],[1984.5,93],[1986.02,2],[1986.27,10],[1986.5,5],[1986.58,93],[1986.72,20],[1986.78,5],[1987.0,8],[1987.04,93],[1987.5,60],[1987.78,55],[1987.8,94],[1989.44,2],[1989.65,10],[1989.7,49],[1989.82,95],[1990.08,100],[1990.58,100],[1992.74,2],[1993.2,5],[1993.4,0],[1994.0,3],[1994.64,2],[1994.72,95],[1995.65,56],[1996.0,50],[1996.03,100],[1997.25,45],[1997.3,100],[1998.6,40],[1998.7,100],[1999.0,90],[2000.72,2],[2000.9,5],[2000.93,100],[2001.48,100],[2002.3,55],[2002.37,100],[2004.4,2],[2004.85,5],[2004.91,62],[2006.3,2],[2006.55,5],[2006.61,100],[2007.57,41],[2007.8,40],[2007.82,100],[2008.3,85],[2010.1,2],[2011.0,5],[2011.88,3],[2011.93,100],[2013.53,2],[2013.85,5],[2013.91,17],[2014.2,2],[2014.38,5],[2014.41,41],[2015.3,3],[2015.7,5],[2015.73,51],[2016.39,14.3]];

// ---------------- helpers ----------------
const pts = (a: P[]) => a.map(([x, y]) => ({ x, y }));

function ln(key: string, arr: P[], stroke: string, w = 1) {
  return <Line key={key} data={pts(arr)} dataKey="y" type="linear" dot={false} activeDot={false} stroke={stroke} strokeWidth={w} isAnimationActive={false} />;
}
function hl(key: string, y: number, stroke: string, w = 1, dash?: string) {
  return <ReferenceLine key={key} y={y} stroke={stroke} strokeWidth={w} strokeDasharray={dash} />;
}
function seg(key: string, a: P, b: P, stroke = '#000', w = 2, dash = '4 3') {
  return <ReferenceLine key={key} segment={[{ x: a[0], y: a[1] }, { x: b[0], y: b[1] }]} stroke={stroke} strokeWidth={w} strokeDasharray={dash} ifOverflow="visible" />;
}

type PanelCfg = { top: number; h: number; dom: [number, number]; ticks: number[]; fmt?: (v: number) => string; showX?: boolean; data?: any[] };

function panel(key: string, c: PanelCfg, children: React.ReactNode[]) {
  const xh = c.showX ? 18 : 0;
  return (
    <div key={key} style={{ position: 'absolute', left: 0, top: c.top, width: 624, height: c.h + xh }}>
      <ComposedChart width={624} height={c.h + xh} data={c.data} margin={{ top: 0, right: 0, bottom: 0, left: 13 }}>
        <CartesianGrid vertical={false} stroke="#efc2b3" strokeDasharray="1 2" fill="#fbf3cd" />
        <XAxis type="number" dataKey="x" domain={X_DOMAIN} allowDataOverflow ticks={YEARS} interval={0} hide={!c.showX} height={xh}
          tickFormatter={(v: number) => String(v % 100).padStart(2, '0')} tickLine={false} axisLine={false} tickSize={0} tickMargin={6}
          tick={{ fontSize: 10, fill: '#222' }} />
        <YAxis orientation="right" type="number" domain={c.dom} allowDataOverflow ticks={c.ticks} interval={0} width={41}
          tickFormatter={c.fmt} tickLine={false} axisLine={false} tickSize={0} tickMargin={4} tick={{ fontSize: 10, fill: '#222' }} />
        {YEARS.map((y) => <ReferenceLine key={'g' + y} x={y} stroke="#cdd3a0" strokeWidth={1} />)}
        {children}
      </ComposedChart>
    </div>
  );
}

const GREEN = '#1d6e1d';
const DASHDOT = '7 2 2 2';

// ---------------- overlay ----------------
type Callout = { x: number; y: number; w: number; h: number; color?: string; lines: { t: string; x: number; y: number; len: number }[]; wedges?: P[][] };
const callouts: Callout[] = [
  { x: 91, y: 47, w: 129, h: 20, color: '#1e1ee6', lines: [{ t: '20 - 40 MMA Cross = Bullish', x: 94, y: 57, len: 120 }], wedges: [[[92, 51], [92, 58], [73, 47]]] },
  { x: 95, y: 93, w: 62, h: 20, color: '#6a2b8c', lines: [{ t: 'Swing Line', x: 98, y: 103, len: 49 }], wedges: [[[96, 97], [96, 104], [79, 91]]] },
  { x: 195, y: 80, w: 110, h: 38, lines: [{ t: 'This bubble should not', x: 199, y: 91, len: 100 }, { t: 'extend into this zone.', x: 199, y: 107, len: 93 }], wedges: [[[247, 81], [256, 81], [261, 37]]] },
  { x: 424, y: 80, w: 123, h: 22, lines: [{ t: 'Extreme Bubble Territory', x: 427, y: 92, len: 111 }], wedges: [[[432, 81], [426, 86], [331, 38]], [[538, 101], [545, 99], [577, 153]]] },
  { x: 189, y: 182, w: 83, h: 23, lines: [{ t: 'Bubble Territory', x: 191, y: 194, len: 72 }], wedges: [[[227, 183], [235, 183], [261, 38]], [[226, 204], [233, 204], [222, 226]]] },
  { x: 470, y: 132, w: 78, h: 20, lines: [{ t: 'Turning lower?', x: 473, y: 142, len: 67 }], wedges: [[[538, 151], [545, 149], [573, 204]]] },
  { x: 473, y: 160, w: 67, h: 22, lines: [{ t: 'Still elevated.', x: 476, y: 171, len: 57 }], wedges: [[[527, 181], [535, 181], [567, 203]]] },
  { x: 405, y: 262, w: 153, h: 40, lines: [{ t: 'Failure here would mark the end', x: 408, y: 274, len: 144 }, { t: 'of the rally in stocks since 2009.', x: 408, y: 289, len: 140 }], wedges: [[[550, 263], [557, 267], [568, 249]]] },
  { x: 281, y: 422, w: 44, h: 20, lines: [{ t: 'Diamond', x: 284.5, y: 432, len: 37 }] },
  { x: 521, y: 455, w: 44, h: 20, lines: [{ t: 'Support', x: 524, y: 465, len: 35 }], wedges: [[[558, 456], [564, 460], [577, 441]]] },
  { x: 506, y: 578, w: 62, h: 23, lines: [{ t: 'Fib Support', x: 509, y: 589, len: 50 }], wedges: [[[561, 579], [567, 584], [579, 567]]] },
  { x: 308, y: 653, w: 44, h: 21, lines: [{ t: 'Diamond', x: 310.5, y: 664, len: 37.5 }] },
  { x: 510, y: 690, w: 63, h: 23, lines: [{ t: 'Fib Support', x: 512.5, y: 701, len: 50.5 }], wedges: [[[566, 691], [572, 696], [579, 683]]] },
  { x: 274, y: 757, w: 102, h: 39, lines: [{ t: 'Difficult seeing these', x: 276.5, y: 769, len: 92.5 }, { t: 'turning back higher.', x: 276.5, y: 786, len: 88.5 }], wedges: [[[376, 789], [376, 795], [581, 793]], [[378, 795], [388, 795], [581, 888]], [[374, 796], [381, 797], [558, 967]]] },
  { x: 398, y: 1099, w: 87, h: 33, lines: [{ t: 'Volitility breakout', x: 400, y: 1111, len: 77.5 }, { t: 'is likely coming.', x: 400, y: 1127, len: 71.5 }], wedges: [[[484, 1127], [485, 1132], [580, 1170]]] },
  { x: 499, y: 1105, w: 74, h: 19, lines: [{ t: 'Fib Resistance', x: 502, y: 1114, len: 63 }], wedges: [[[566, 1123], [572, 1120], [581, 1139]]] },
  { x: 513, y: 1133, w: 52, h: 19, lines: [{ t: 'Breakout?', x: 515.5, y: 1143, len: 45.5 }], wedges: [[[559, 1151], [564, 1148], [579, 1167]]] },
];

// fib retracement labels: [y, text]
const fibLabels: [number, string][] = [
  [29, '100.0%'], [151, '61.8%'], [189, '50.0%'], [227, '38.2%'], [349, '0.0%'],
  [391, '0.0%'], [413, '38.2%'], [422, '50.0%'], [431, '61.8%'], [467, '100.0%'],
  [491, '100.0%'], [529, '61.8%'], [542, '50.0%'], [552, '38.2%'], [607, '0.0%'],
  [643, '38.2%'], [658, '50.0%'], [670, '61.8%'], [711, '100.0%'],
  [1075, '0.0%'], [1113, '38.2%'], [1126, '50.0%'], [1137, '61.8%'], [1172, '100.0%'],
  [1187, '100.0%'], [1222, '61.8%'], [1233, '50.0%'], [1245, '38.2%'], [1284, '0.0%'],
];
const fibWidth = (t: string) => (t.length === 6 ? 27 : t.length === 5 ? 22.5 : 18);

const legendItems: [string, string, number, number][] = [
  ['$COMPQ:$INDU (Monthly) 0.28', '#000', 36, 141],
  ['MA(20) 0.28', '#000080', 47, 45],
  ['MA(40) 0.26', '#8b0000', 58, 45],
  ['MA(50) 0.26', '#005a00', 69, 45],
  ['MA(100) 0.23', '#ff00ff', 80.5, 49],
  ['EMA(21) 0.28', '#7b2fe0', 91.5, 54],
  ['EMA(34) 0.27', '#ff2a1a', 102, 54],
  ['EMA(55) 0.26', '#ff5a2a', 112.5, 54],
  ['EMA(89) 0.25', '#d2691e', 123.5, 54],
  ['EMA(155) 0.23', '#8e7fa6', 135, 57],
];

type Seg = [string, string];
const headers: { y: number; len: number; parts: Seg[]; icon?: boolean }[] = [
  { y: 381, len: 52, icon: true, parts: [['RSI(13) 54.29', '#000']] },
  { y: 497, len: 158, parts: [['MACD(5,34,5) 0.011, ', '#000'], ['0.015', '#0000ff'], [', -0.004', '#888']] },
  { y: 614, len: 70, parts: [['ROC(13) 0.10%', '#000']] },
  { y: 729, len: 174, parts: [['Full STO %K(13,3) %D(5) 36.80, ', '#000'], ['47.64', '#ff0000']] },
  { y: 845, len: 180, parts: [['Full STO %K(21,8) %D(13) 58.82, ', '#000'], ['77.22', '#ff0000']] },
  { y: 962, len: 185, parts: [['Full STO %K(34,13) %D(21) 75.14, ', '#000'], ['86.59', '#ff0000']] },
  { y: 1077, len: 110, parts: [['BB Width(21,2.1) 12.245', '#000']] },
  { y: 1194, len: 160, parts: [['ADX(13) 21.40 ', '#000'], ['+DI 18.62 ', '#1d7a1d'], ['-DI 24.14', '#ff0000']] },
  { y: 1308, len: 82, icon: true, parts: [['StochRSI(13) 0.037', '#000']] },
  { y: 1425, len: 139, parts: [['AROON(21) ', '#000'], ['Up 61.9 ', '#1d7a1d'], ['Down 14.3', '#c0103a']] },
];

const frames: [number, number][] = [[32, 356], [374, 478], [478, 606], [606, 720], [720, 836], [836, 950], [950, 1068], [1068, 1185], [1185, 1300], [1300, 1418], [1418, 1533]];

function Overlay() {
  return (
    <svg width={624} height={1552} style={{ position: 'absolute', left: 0, top: 0, pointerEvents: 'none' }} fontFamily={FONT}>
      {frames.map(([a, b], i) => <rect key={'f' + i} x={13} y={a} width={570} height={b - a} fill="none" stroke="#a8a8a8" strokeWidth={1} />)}
      <text x={13} y={16} fontSize={15} fontWeight="bold" textLength={77} lengthAdjust="spacingAndGlyphs">$COMPQ:$INDU</text>
      <text x={93} y={14} fontSize={11} textLength={214} lengthAdjust="spacingAndGlyphs">Nasdaq Composite/Dow Jones Industrial Average INDX</text>
      <text x={513} y={11} fontSize={10} textLength={71} lengthAdjust="spacingAndGlyphs" fill="#333">©StockCharts.com</text>
      <text x={13} y={28} fontSize={11} textLength={41} lengthAdjust="spacingAndGlyphs">1-Apr-2016</text>
      <text x={268} y={28} fontSize={11} textLength={313} lengthAdjust="spacingAndGlyphs">
        <tspan fontWeight="bold">Open</tspan><tspan>{' 0.27 '}</tspan>
        <tspan fontWeight="bold">High</tspan><tspan>{' 0.28 '}</tspan>
        <tspan fontWeight="bold">Low</tspan><tspan>{' 0.27 '}</tspan>
        <tspan fontWeight="bold">Close</tspan><tspan>{' 0.28 '}</tspan>
        <tspan fontWeight="bold">Volume</tspan><tspan>{' 5 '}</tspan>
        <tspan fontWeight="bold">Chg</tspan><tspan>{' +0.00 (+0.31%) ▲'}</tspan>
      </text>
      {legendItems.map(([t, c, y, len], i) => (
        <g key={'lg' + i}>
          <line x1={14} x2={21} y1={y} y2={y} stroke={c} strokeWidth={2} />
          <text x={22} y={y} dominantBaseline="central" fontSize={10} fill={c} textLength={len} lengthAdjust="spacingAndGlyphs">{t}</text>
        </g>
      ))}
      {headers.map((h, i) => (
        <g key={'hd' + i}>
          {h.icon ? <polygon points={`15,${h.y + 4} 19,${h.y - 4} 23,${h.y + 4}`} fill="#3a3a9a" stroke="#000" strokeWidth={0.6} /> : <line x1={14} x2={21} y1={h.y} y2={h.y} stroke="#000" strokeWidth={2} />}
          <text x={25} y={h.y} dominantBaseline="central" fontSize={10} textLength={h.len} lengthAdjust="spacingAndGlyphs">
            {h.parts.map(([t, c], j) => <tspan key={j} fill={c}>{t}</tspan>)}
          </text>
        </g>
      ))}
      {fibLabels.map(([y, t], i) => {
        const w = fibWidth(t);
        return <text key={'fb' + i} x={622 - w} y={y} dominantBaseline="central" fontSize={9} fill="#8c8c8c" textLength={w} lengthAdjust="spacingAndGlyphs">{t}</text>;
      })}
      {callouts.map((c, i) => (c.wedges || []).map((w, j) => (
        <g key={'w' + i + '_' + j}>
          <polygon points={w.map(([x, y]) => `${x + 2},${y + 2}`).join(' ')} fill="#b4b4b4" />
          <polygon points={w.map(([x, y]) => `${x},${y}`).join(' ')} fill="#fff" stroke="#8a8a8a" strokeWidth={0.8} />
        </g>
      )))}
      {callouts.map((c, i) => (
        <g key={'c' + i}>
          <rect x={c.x + 3} y={c.y + 3} width={c.w} height={c.h} fill="#a9a9a9" />
          <rect x={c.x} y={c.y} width={c.w} height={c.h} fill="#fff" stroke="#8a8a8a" strokeWidth={1} />
          {c.lines.map((l, j) => (
            <text key={j} x={l.x} y={l.y} dominantBaseline="central" fontFamily={NARROW} fontWeight="bold" fontSize={12} fill={c.color || '#000'} textLength={l.len} lengthAdjust="spacingAndGlyphs">{l.t}</text>
          ))}
        </g>
      ))}
    </svg>
  );
}

export default function App() {
  const rsiData = rsi13.map(([x, v]) => ({ x, v, hi: Math.max(v, 70), lo: Math.min(v, 30) }));
  const srsiData = stochRsi.map(([x, v]) => ({ x, v, hi: Math.max(v, 0.8), lo: Math.min(v, 0.2) }));
  const histData = macdHist.map(([x, h]) => ({ x, h }));

  return (
    <div style={{ position: 'absolute', left: 0, top: 0, width: 624, height: 1552, background: '#fff', fontFamily: FONT, overflow: 'hidden' }}>
      {panel('main', { top: 32, h: 324, dom: [0.13065, 0.46727], ticks: [0.14, 0.16, 0.18, 0.2, 0.22, 0.24, 0.26, 0.28, 0.3, 0.32, 0.34, 0.36, 0.38, 0.4, 0.42, 0.44, 0.46], fmt: (v) => v.toFixed(2), showX: true }, [
        hl('m1', 0.4655, '#000', 1.5), hl('m2', 0.34, '#000', 1.5), hl('m3', 0.3, '#000', 1.5), hl('m4', 0.26, '#000', 1.5), hl('m5', 0.1337, '#000', 1.5),
        hl('d1', 0.2668, '#000', 2, '4 3'), hl('d2', 0.2338, '#000', 1.5, '4 3'), hl('d3', 0.2224, '#000', 1.5, '4 3'), hl('d4', 0.2124, '#000', 1.5, '4 3'),
        hl('d5', 0.1923, '#000', 1.5, '4 3'), hl('d6', 0.1784, '#000', 1.5, '4 3'), hl('d7', 0.1604, '#000', 1.5, '4 3'),
        ln('e155', ema155, '#9a8cb0'), ln('m100', ma100, '#ff00ff'), ln('e89', ema89, '#d2691e'), ln('e55', ema55, '#ff6a3a'),
        ln('m50', ma50, '#006400'), ln('m40', ma40, '#990000'), ln('e34', ema34, '#ff2a1a'), ln('m20', ma20, '#000080'), ln('e21', ema21, '#7b3cf0'),
        ln('px', priceRatio, '#000', 1.6),
      ])}
      {panel('rsi', { top: 374, h: 104, dom: [4, 108], ticks: [10, 30, 50, 70, 90], data: rsiData }, [
        hl('r1', 90, '#000', 1.5), hl('r2', 74.7, '#000', 1.5), hl('r3', 61.7, '#000', 1.5), hl('r4', 44.3, '#000', 1.5), hl('r5', 18, '#000', 1.5),
        hl('r6', 79.3, '#000', 2, '4 3'), hl('r7', 70, '#1010c8', 1.2), hl('r8', 30, '#1010c8', 1.2), hl('r9', 50, '#1010c8', 1.2, DASHDOT),
        <Area key="rhi" dataKey="hi" baseValue={70} type="linear" stroke="none" fill="#000" fillOpacity={1} isAnimationActive={false} />,
        <Area key="rlo" dataKey="lo" baseValue={30} type="linear" stroke="none" fill="#000" fillOpacity={1} isAnimationActive={false} />,
        <Line key="rl" dataKey="v" type="linear" dot={false} activeDot={false} stroke="#3b3bc8" strokeWidth={1} isAnimationActive={false} />,
        seg('rd1', [1984.37, 30.3], [2000.09, 89.7]), seg('rd2', [2000.09, 89.7], [2018.97, 27]),
        seg('rd3', [1984.37, 30.3], [1990.71, 18.7]), seg('rd4', [1990.71, 18.7], [2018.97, 53.5]),
      ])}
      {panel('macd', { top: 478, h: 128, dom: [-0.0768, 0.1518], ticks: [-0.05, -0.025, 0, 0.025, 0.05, 0.075, 0.1, 0.125], fmt: (v) => v.toFixed(3), data: histData }, [
        hl('a1', 0.1196, '#000', 1.5), hl('a2', 0.05, '#000', 1.5), hl('a3', 0.025, '#000', 1.5), hl('a4', 0.0054, '#000', 1.5), hl('a5', -0.066, '#000', 1.5),
        <Bar key="hist" dataKey="h" barSize={3} isAnimationActive={false}>
          {histData.map((d, i) => <Cell key={i} fill={d.h >= 0 ? '#8a8a8a' : '#7a62d0'} />)}
        </Bar>,
        ln('sig', macdSignal, '#3c3cf0', 1), ln('macd', macdLine, '#000', 1.5),
        seg('md1', [1990.84, -0.0244], [2000.22, 0.1173]), seg('md2', [2000.22, 0.1173], [2019.1, -0.0601]),
        seg('md3', [1990.84, -0.0244], [2001.74, -0.0661]), seg('md4', [2001.74, -0.0661], [2019.1, 0.0649]),
      ])}
      {panel('roc', { top: 606, h: 114, dom: [-66.1, 82.6], ticks: [-60, -40, -20, 0, 20, 40, 60] }, [
        hl('o1', 72.2, '#000', 1.5), hl('o2', 21.7, '#000', 1.5), hl('o3', 4.8, '#000', 1.5), hl('o4', 0, '#000', 1, DASHDOT), hl('o5', -10.4, '#000', 1.5), hl('o6', -62.6, '#000', 1.5),
        ln('roc', roc13, '#000', 1.3),
        seg('od1', [1982.47, -16.1], [2000.16, 72.2]), seg('od2', [2000.16, 72.2], [2019.1, -29.1]),
        seg('od3', [1982.47, -16.1], [2001.18, -62.6]), seg('od4', [2001.18, -62.6], [2019.1, 38.3]),
      ])}
      {panel('sto1', { top: 720, h: 116, dom: [-3.8, 109], ticks: [20, 50, 80] }, [
        hl('s1', 98.3, '#000', 2, '4 3'), hl('s2', 7.5, '#000', 2, '4 3'), hl('s3', 80, GREEN, 1.2), hl('s4', 20, GREEN, 1.2), hl('s5', 50, GREEN, 1.2, DASHDOT),
        ln('s1d', sto1D, '#ff0000', 1), ln('s1k', sto1K, '#000', 1.5),
        seg('st1', [2003.64, 93.8], [2019.1, 76.6], '#555', 1, '3 2'), seg('st2', [2001.1, 8.5], [2019.1, 47.4], '#555', 1, '3 2'), seg('st3', [2006.55, 29], [2019.1, 66.9], '#555', 1, '3 2'),
      ])}
      {panel('sto2', { top: 836, h: 114, dom: [-2.2, 109.3], ticks: [20, 50, 80] }, [
        hl('t1', 92.4, '#000', 2, '4 3'), hl('t2', 8.6, '#000', 2, '4 3'), hl('t3', 80, GREEN, 1.2), hl('t4', 20, GREEN, 1.2), hl('t5', 50, GREEN, 1.2, DASHDOT),
        ln('s2d', sto2D, '#ff0000', 1), ln('s2k', sto2K, '#000', 1.5),
        seg('tt1', [2004.0, 85], [2019.1, 86], '#555', 1, '3 2'), seg('tt2', [2002.5, 10.9], [2019.1, 81], '#555', 1, '3 2'), seg('tt3', [2007.06, 39.2], [2019.1, 87.5], '#555', 1, '3 2'),
      ])}
      {panel('sto3', { top: 950, h: 118, dom: [-4.75, 111.3], ticks: [20, 50, 80] }, [
        hl('u1', 92.3, '#000', 2, '4 3'), hl('u2', 6.4, '#000', 2, '4 3'), hl('u3', 80, GREEN, 1.2), hl('u4', 20, GREEN, 1.2), hl('u5', 50, GREEN, 1.2, DASHDOT),
        ln('s3d', sto3D, '#ff0000', 1), ln('s3k', sto3K, '#000', 1.5),
        seg('ut1', [2003.0, 6.4], [2019.1, 90], '#555', 1, '3 2'), seg('ut2', [2008.7, 44], [2019.1, 86.7], '#555', 1, '3 2'),
      ])}
      {panel('bb', { top: 1068, h: 117, dom: [-2, 152.8], ticks: [20, 40, 60, 80, 100, 120, 140] }, [
        hl('b1', 140, '#000', 1.5), hl('b2', 89.3, '#000', 1.5), hl('b3', 73, '#000', 1.5), hl('b4', 56.6, '#000', 1.5), hl('b5', 4.6, '#000', 1.5),
        ln('bbw', bbWidth, '#000', 1.3),
        seg('bt1', [2004.14, 38], [2019.1, 15.6], '#555', 1, '3 2'),
      ])}
      {panel('adx', { top: 1185, h: 115, dom: [4.6, 48.8], ticks: [5, 10, 15, 20, 25, 30, 35, 40, 45] }, [
        hl('x1', 45.6, GREEN, 1.5), hl('x2', 31.8, GREEN, 1.5), hl('x3', 27.3, GREEN, 1.5), hl('x4', 23.2, GREEN, 1.5), hl('x5', 8.7, GREEN, 1.5),
        ln('pdi', plusDI, '#2e8b2e', 1), ln('mdi', minusDI, '#ff1a1a', 1), ln('adx', adxLine, '#000', 1.6),
      ])}
      {panel('srsi', { top: 1300, h: 118, dom: [-0.0795, 1.0927], ticks: [0, 0.2, 0.5, 0.8, 1], fmt: (v) => v.toFixed(1), data: srsiData }, [
        hl('y1', 0.8, '#5b2c83', 1.5), hl('y2', 0.2, '#5b2c83', 1.5), hl('y3', 0.5, '#5b2c83', 1.2, DASHDOT),
        <Area key="shi" dataKey="hi" baseValue={0.8} type="linear" stroke="none" fill="#8f8fd6" fillOpacity={1} isAnimationActive={false} />,
        <Area key="slo" dataKey="lo" baseValue={0.2} type="linear" stroke="none" fill="#8f8fd6" fillOpacity={1} isAnimationActive={false} />,
        <Line key="sl" dataKey="v" type="linear" dot={false} activeDot={false} stroke="#5a3a9a" strokeWidth={1} isAnimationActive={false} />,
      ])}
      {panel('aroon', { top: 1418, h: 115, dom: [-6, 106.7], ticks: [10, 30, 50, 70, 90], showX: true }, [
        hl('z1', 70, GREEN, 1.5), hl('z2', 30, GREEN, 1.5), hl('z3', 50, GREEN, 1.2, DASHDOT),
        ln('adn', aroonDown, '#c0103a', 1.2), ln('aup', aroonUp, '#2e7d32', 1.2),
      ])}
      <Overlay />
    </div>
  );
}
